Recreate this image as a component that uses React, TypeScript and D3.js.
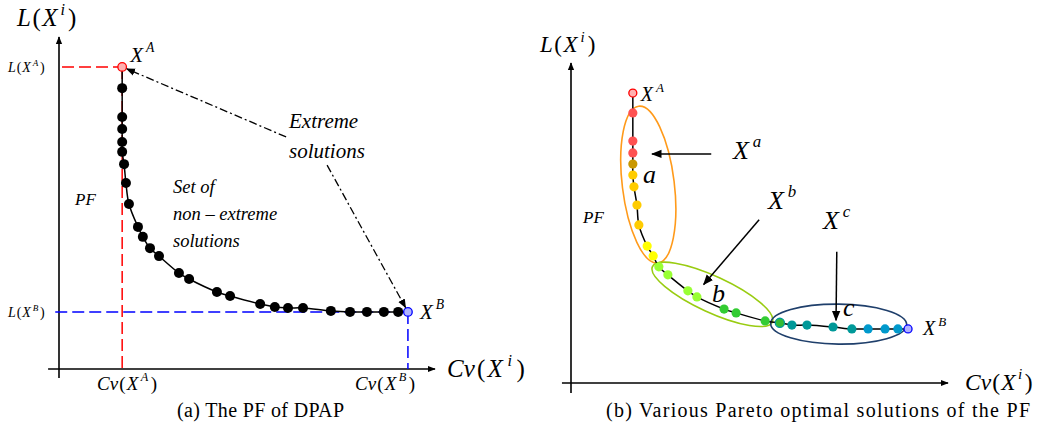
import React from "react";
import * as d3 from "d3";

// left panel: PF of DPAP (Cv, L in arbitrary 0-100 units)
const leftCv = [16.8, 16.8, 16.8, 16.8, 16.8, 16.8, 17.3, 17.8, 18.6, 21.0, 22.3, 24.2, 26.6, 31.9, 34.6, 42.0, 45.5, 53.5, 57.4, 60.9, 64.9, 72.3, 77.4, 81.9, 86.4, 90.2, 92.8];
const leftL = [91.0, 84.6, 75.9, 72.3, 68.4, 65.4, 61.7, 56.0, 49.7, 42.8, 39.8, 36.4, 34.0, 28.9, 27.1, 23.2, 22.0, 19.6, 18.7, 18.4, 18.4, 17.5, 17.2, 17.2, 17.2, 17.2, 17.2];

// right panel: Pareto optimal solutions grouped a / b / c
const rightCv = [16.4, 16.4, 16.4, 16.4, 16.4, 16.4, 16.7, 17.5, 18.0, 20.2, 21.8, 23.3, 25.7, 31.0, 33.4, 40.6, 43.8, 51.5, 55.4, 58.6, 62.6, 69.5, 74.5, 78.8, 83.3, 86.7, 89.4];
const rightL = [90.6, 84.4, 75.6, 71.9, 68.4, 65.0, 61.3, 55.6, 49.4, 42.8, 39.7, 36.3, 33.8, 28.8, 26.9, 23.1, 21.9, 19.4, 18.8, 18.1, 18.1, 17.5, 16.9, 16.9, 16.9, 16.9, 16.9];
const rightFill = ["#ffb0b0", "#ff5252", "#ff5252", "#ff5252", "#c99700", "#ffcc00", "#ffcc00", "#ffcc00", "#ffcc00", "#ffff00", "#ffff00", "#99ff33", "#99ff33", "#99ff33", "#99ff33", "#33cc33", "#33cc33", "#33cc33", "#33bb33", "#009999", "#009999", "#009999", "#009999", "#0099cc", "#0099cc", "#0099cc", "#b0b0ff"];

const FONT = "'Liberation Serif', 'Times New Roman', serif";

type Part = { t: string; it?: boolean; sup?: boolean; dx?: number };

const MathText = ({ x, y, size, parts }: { x: number; y: number; size: number; parts: Part[] }) => {
  let up = false;
  return (
    <text x={x} y={y} fontSize={size} fontFamily={FONT} fill="#000">
      {parts.map((p, i) => {
        let dy = 0;
        if (p.sup && !up) { dy = -size * 0.45; up = true; }
        else if (!p.sup && up) { dy = size * 0.45; up = false; }
        return (
          <tspan key={i} dy={dy} dx={p.dx || 0} fontStyle={p.it ? "italic" : "normal"} fontSize={p.sup ? size * 0.65 : size}>
            {p.t}
          </tspan>
        );
      })}
    </text>
  );
};

// f(X^s) with loose math spacing
const lab = (f: string, s: string, k = 1): Part[] => [
  { t: f, it: true },
  { t: "(", dx: 1.5 * k },
  { t: "X", it: true, dx: 1.5 * k },
  { t: s, it: true, sup: true, dx: 3 * k },
  { t: ")", dx: 3 * k },
];
const xs = (s: string, k = 1): Part[] => [{ t: "X", it: true }, { t: s, it: true, sup: true, dx: 3 * k }];

export default function App() {
  const lx = d3.scaleLinear().domain([0, 100]).range([59, 435]);
  const ly = d3.scaleLinear().domain([0, 100]).range([369, 37]);
  const rx = d3.scaleLinear().domain([0, 100]).range([571, 948]);
  const ry = d3.scaleLinear().domain([0, 100]).range([383, 63]);

  const leftPts = leftCv.map((c, i) => [lx(c), ly(leftL[i])] as [number, number]);
  const rightPts = rightCv.map((c, i) => [rx(c), ry(rightL[i])] as [number, number]);
  const line = d3.line().curve(d3.curveCatmullRom.alpha(0.5));

  const nL = leftPts.length - 1;
  const nR = rightPts.length - 1;
  const [axL, ayL] = leftPts[0];
  const [bxL, byL] = leftPts[nL];

  // dash-dot pointers to the extreme solutions
  const p1: [number, number] = [lx(60.4), ly(69.9)];
  const p2: [number, number] = [lx(71.3), ly(61.4)];
  const shorten = (from: [number, number], to: [number, number], d: number) => {
    const dx = to[0] - from[0], dy = to[1] - from[1];
    const len = Math.hypot(dx, dy);
    return [to[0] - (dx / len) * d, to[1] - (dy / len) * d];
  };
  const e1 = shorten(p1, [axL, ayL], 5);
  const e2 = shorten(p2, [bxL, byL], 5);

  const ellipse = (cx: number, cy: number, a: number, b: number, rot: number, color: string) => (
    <ellipse cx={cx} cy={cy} rx={a} ry={b} transform={`rotate(${rot},${cx},${cy})`} fill="none" stroke={color} strokeWidth={1.6} />
  );

  return (
    <svg width={1039} height={439} style={{ position: "absolute", left: 0, top: 0, background: "#fff" }}>
      <defs>
        <marker id="ah" viewBox="0 0 10 10" refX="9" refY="5" markerWidth="7" markerHeight="7" orient="auto">
          <path d="M0,1 L10,5 L0,9 z" fill="#000" />
        </marker>
        <marker id="axh" viewBox="0 0 10 10" refX="9" refY="5" markerWidth="5" markerHeight="5" orient="auto">
          <path d="M0,1 L10,5 L0,9 z" fill="#000" />
        </marker>
      </defs>

      {/* ---------- left panel ---------- */}
      <line x1={lx(-2.9)} y1={ly(0)} x2={lx(100)} y2={ly(0)} stroke="#000" strokeWidth={1.6} markerEnd="url(#axh)" />
      <line x1={lx(0)} y1={ly(-2.7)} x2={lx(0)} y2={ly(100)} stroke="#000" strokeWidth={1.6} markerEnd="url(#axh)" />

      <line x1={lx(0.8)} y1={ayL} x2={axL} y2={ayL} stroke="#ff0000" strokeWidth={1.5} strokeDasharray="12,5" />
      <line x1={axL} y1={ayL} x2={axL} y2={ly(0)} stroke="#ff0000" strokeWidth={1.5} strokeDasharray="12,5" />
      <line x1={lx(-1)} y1={byL} x2={bxL} y2={byL} stroke="#0000ff" strokeWidth={1.5} strokeDasharray="12,5" />
      <line x1={bxL} y1={byL} x2={bxL} y2={ly(0)} stroke="#0000ff" strokeWidth={1.5} strokeDasharray="12,5" />

      <path d={line(leftPts) || ""} fill="none" stroke="#000" strokeWidth={1.5} />
      {leftPts.slice(1, nL).map((p, i) => (
        <circle key={i} cx={p[0]} cy={p[1]} r={5} fill="#000" />
      ))}
      <circle cx={axL} cy={ayL} r={4.3} fill="#ffb0b0" stroke="#ff0000" strokeWidth={1.3} />
      <circle cx={bxL} cy={byL} r={4.3} fill="#b0b4ff" stroke="#0000ff" strokeWidth={1.3} />

      <line x1={p1[0]} y1={p1[1]} x2={e1[0]} y2={e1[1]} stroke="#000" strokeWidth={1.3} strokeDasharray="8,3,2,3" markerEnd="url(#ah)" />
      <line x1={p2[0]} y1={p2[1]} x2={e2[0]} y2={e2[1]} stroke="#000" strokeWidth={1.3} strokeDasharray="8,3,2,3" markerEnd="url(#ah)" />

      <MathText x={17} y={26} size={25} parts={lab("L", "i")} />
      <MathText x={8} y={72} size={14} parts={lab("L", "A", 0.6)} />
      <MathText x={8} y={317} size={14} parts={lab("L", "B", 0.6)} />
      <MathText x={axL + 8} y={ayL - 5} size={21} parts={xs("A")} />
      <MathText x={bxL + 12} y={byL + 7} size={21} parts={xs("B")} />
      <MathText x={97} y={390} size={19} parts={lab("Cv", "A", 0.8)} />
      <MathText x={355} y={390} size={19} parts={lab("Cv", "B", 0.8)} />
      <MathText x={447} y={377} size={25} parts={lab("Cv", "i", 1.5)} />
      <text x={75} y={205} fontSize={17} fontStyle="italic" fontFamily={FONT}>PF</text>
      <text fontSize={18.5} fontStyle="italic" fontFamily={FONT}>
        <tspan x={173} y={193}>Set  of</tspan>
        <tspan x={173} y={220}>non – extreme</tspan>
        <tspan x={173} y={247}>solutions</tspan>
      </text>
      <text fontSize={21} fontStyle="italic" fontFamily={FONT}>
        <tspan x={289} y={128}>Extreme</tspan>
        <tspan x={289} y={158}>solutions</tspan>
      </text>
      <text x={177} y={417} fontSize={20} fontFamily={FONT} textLength={167} lengthAdjust="spacing">(a)  The PF of DPAP</text>

      {/* ---------- right panel ---------- */}
      <line x1={rx(-2.4)} y1={ry(0)} x2={rx(100)} y2={ry(0)} stroke="#000" strokeWidth={1.6} markerEnd="url(#axh)" />
      <line x1={rx(0)} y1={ry(-3.1)} x2={rx(0)} y2={ry(100)} stroke="#000" strokeWidth={1.6} markerEnd="url(#axh)" />

      {ellipse(rx(20.5), ry(62), 26, 79, -7, "#ff9a1a")}
      {ellipse(rx(37.5), ry(27.7), 66, 18, 24.8, "#99cc11")}
      {ellipse(rx(71), ry(18.4), 68, 20, 0.5, "#1f3f6b")}

      <path d={line(rightPts) || ""} fill="none" stroke="#000" strokeWidth={1.5} />
      {rightPts.map((p, i) => (
        <circle
          key={i}
          cx={p[0]}
          cy={p[1]}
          r={i === 0 || i === nR ? 4 : 4.6}
          fill={rightFill[i]}
          stroke={i === 0 ? "#ff0000" : i === nR ? "#0000ff" : i === 18 ? "#009999" : "none"}
          strokeWidth={1.3}
        />
      ))}

      <line x1={rx(37.2)} y1={ry(71.6)} x2={rx(21.5)} y2={ry(71.6)} stroke="#000" strokeWidth={1.5} markerEnd="url(#ah)" />
      <line x1={rx(49.9)} y1={ry(51)} x2={rx(35.2)} y2={ry(30.8)} stroke="#000" strokeWidth={1.5} markerEnd="url(#ah)" />
      <line x1={rx(70.5)} y1={ry(41)} x2={rx(70.3)} y2={ry(19.6)} stroke="#000" strokeWidth={1.5} markerEnd="url(#ah)" />

      <MathText x={540} y={52} size={23} parts={lab("L", "i")} />
      <MathText x={rightPts[0][0] + 8} y={rightPts[0][1] + 8} size={20} parts={xs("A")} />
      <MathText x={rightPts[nR][0] + 15} y={rightPts[nR][1] + 6} size={20} parts={xs("B")} />
      <MathText x={965} y={390} size={23.5} parts={lab("Cv", "i", 0.8)} />
      <text x={583} y={223} fontSize={17} fontStyle="italic" fontFamily={FONT}>PF</text>
      <MathText x={733} y={159} size={26} parts={xs("a", 1.3)} />
      <MathText x={768} y={209} size={26} parts={xs("b", 1.3)} />
      <MathText x={823} y={229} size={26} parts={xs("c", 1.3)} />
      <text x={643} y={183} fontSize={26} fontStyle="italic" fontFamily={FONT}>a</text>
      <text x={712} y={302} fontSize={26} fontStyle="italic" fontFamily={FONT}>b</text>
      <text x={843} y={316} fontSize={26} fontStyle="italic" fontFamily={FONT}>c</text>
      <text x={606} y={417} fontSize={20} fontFamily={FONT} textLength={424} lengthAdjust="spacing">(b)  Various Pareto optimal solutions of the PF</text>
    </svg>
  );
}
